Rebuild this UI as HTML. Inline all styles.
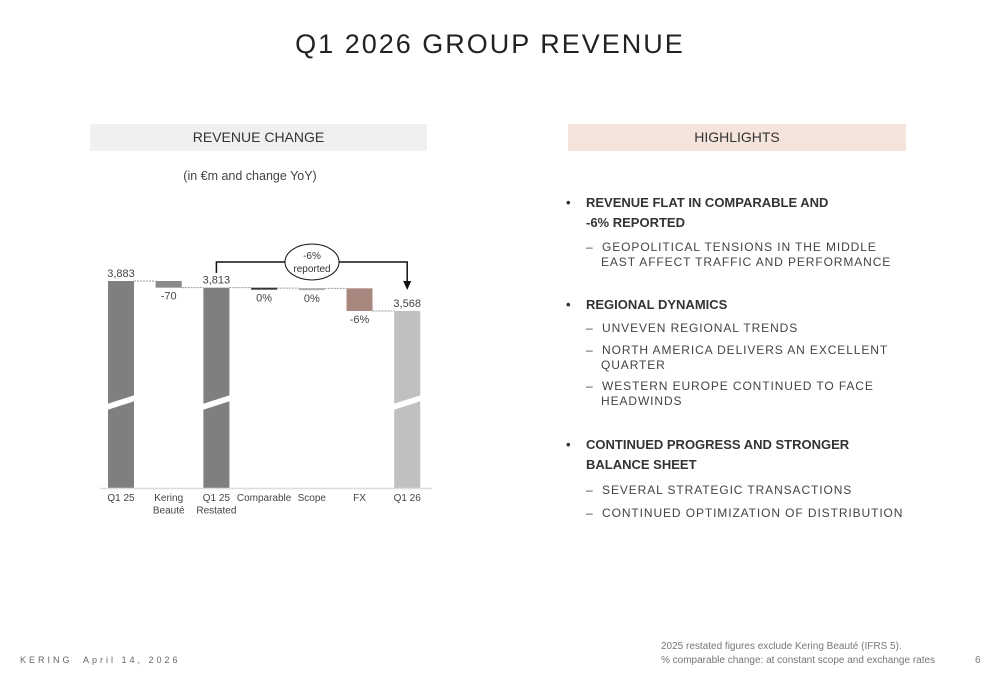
<!DOCTYPE html>
<html><head><meta charset="utf-8"><style>
body{margin:0;width:1000px;height:685px;background:#fff;font-family:"Liberation Sans",sans-serif;color:#333;position:relative;overflow:hidden}
.a{position:absolute;white-space:nowrap}
.b{font-weight:bold;font-size:13px;color:#333;line-height:16px}
.d{font-size:12px;letter-spacing:0.9px;color:#444;line-height:16px}
</style></head><body>
<div class="a" style="left:0;width:980px;text-align:center;top:29px;font-size:27px;letter-spacing:2px;color:#222">Q1 2026 GROUP REVENUE</div>
<div class="a" style="left:90px;top:124px;width:337px;height:27px;background:#f0f0f0;text-align:center;line-height:27px;font-size:14px">REVENUE CHANGE</div>
<div class="a" style="left:568px;top:124px;width:338px;height:27px;background:#f4e4dc;text-align:center;line-height:27px;font-size:14px">HIGHLIGHTS</div>
<div class="a" style="left:90px;width:320px;text-align:center;top:169px;font-size:12.5px;color:#444">(in €m and change YoY)</div>
<svg class="a" style="left:0;top:0" width="500" height="560" id="chart"></svg>

<div class="a b" style="left:566px;top:195px">•</div>
<div class="a b" style="left:586px;top:195px">REVENUE FLAT IN COMPARABLE AND</div>
<div class="a b" style="left:586px;top:215px">-6% REPORTED</div>
<div class="a d" style="left:586px;top:239px">–&nbsp; GEOPOLITICAL TENSIONS IN THE MIDDLE</div>
<div class="a d" style="left:601px;top:254px">EAST AFFECT TRAFFIC AND PERFORMANCE</div>
<div class="a b" style="left:566px;top:297px">•</div>
<div class="a b" style="left:586px;top:297px">REGIONAL DYNAMICS</div>
<div class="a d" style="left:586px;top:320px">–&nbsp; UNVEVEN REGIONAL TRENDS</div>
<div class="a d" style="left:586px;top:342px">–&nbsp; NORTH AMERICA DELIVERS AN EXCELLENT</div>
<div class="a d" style="left:601px;top:357px">QUARTER</div>
<div class="a d" style="left:586px;top:378px">–&nbsp; WESTERN EUROPE CONTINUED TO FACE</div>
<div class="a d" style="left:601px;top:393px">HEADWINDS</div>
<div class="a b" style="left:566px;top:437px">•</div>
<div class="a b" style="left:586px;top:437px">CONTINUED PROGRESS AND STRONGER</div>
<div class="a b" style="left:586px;top:457px">BALANCE SHEET</div>
<div class="a d" style="left:586px;top:482px">–&nbsp; SEVERAL STRATEGIC TRANSACTIONS</div>
<div class="a d" style="left:586px;top:505px">–&nbsp; CONTINUED OPTIMIZATION OF DISTRIBUTION</div>

<div class="a" style="left:20px;top:655px;font-size:9px;letter-spacing:3px;color:#666">KERING&nbsp; April 14, 2026</div>
<div class="a" style="left:661px;top:640px;font-size:10px;color:#777;line-height:14px">2025 restated figures exclude Kering Beauté (IFRS 5).<br>% comparable change: at constant scope and exchange rates</div>
<div class="a" style="left:975px;top:655px;font-size:10px;color:#777">6</div>

<script>
const categories=["Q1 25","Kering|Beauté","Q1 25|Restated","Comparable","Scope","FX","Q1 26"];
const values=[3883,-70,3813,-5,-2,-238,3568];
const types=["total","delta","total","delta","delta","delta","total"];
const valueLabels=["3,883","-70","3,813","0%","0%","-6%","3,568"];
const colors=["#7f7f7f","#8a8a8a","#7f7f7f","#333","#aaa","#a8877f","#c0c0c0"];
const svg=document.getElementById('chart');
const NS="http://www.w3.org/2000/svg";
const base=488, topV=3883, topY=281, scale=0.0952;
function y(v){return topY+(topV-v)*scale;}
function x(i){return 121+i*47.7;}
const bw=26;
function mk(t,a){const e=document.createElementNS(NS,t);for(const k in a)e.setAttribute(k,a[k]);svg.appendChild(e);return e;}
let run=0;
categories.forEach((c,i)=>{
  const cx=x(i);let y0,y1,end;
  if(types[i]==="total"){y0=y(values[i]);y1=base;end=values[i];}
  else{const s=run,e=run+values[i];y0=y(Math.max(s,e));y1=y(Math.min(s,e));end=e;if(y1-y0<2)y1=y0+2;}
  const r=mk('rect',{x:cx-bw/2,y:y0,width:bw,height:y1-y0,fill:colors[i]});
  
  
  if(types[i]==="total"){
    const br=mk('polygon',{points:`${cx-bw/2-1},404 ${cx+bw/2+1},395 ${cx+bw/2+1},401 ${cx-bw/2-1},410`,fill:'#fff'});
    
    
  }
  if(i>0){const ln=mk('line',{x1:x(i-1)+bw/2,x2:cx-bw/2,y1:y(run),y2:y(run),stroke:'#999','stroke-width':1,'stroke-dasharray':'2,1'});
    
    }
  run=end;
  const lbl=mk('text',{x:cx,'text-anchor':'middle','font-size':11,fill:'#444'});
  lbl.textContent=valueLabels[i];
  if(types[i]==="total"){lbl.setAttribute('y',y0-4);}
  else lbl.setAttribute('y',y1+12);
  
  
  const parts=c.split('|');
  parts.forEach((p,j)=>{const t=mk('text',{x:cx,y:501+j*12.5,'text-anchor':'middle','font-size':10,fill:'#444'});t.textContent=p;
    
    });
});
const ax=mk('line',{x1:100,x2:432,y1:488.5,y2:488.5,stroke:'#ddd','stroke-width':1.5});


const br=mk('path',{d:`M${x(2)} 273 V262 H${x(6)} V284`,stroke:'#111',fill:'none','stroke-width':1.5});


const ar=mk('polygon',{points:`${x(6)-4},281 ${x(6)+4},281 ${x(6)},290`,fill:'#111'});


const el=mk('ellipse',{cx:312,cy:262,rx:27,ry:18,fill:'#fff',stroke:'#111','stroke-width':1});


[["-6%",259],["reported",272]].forEach(([s,yy])=>{const t=mk('text',{x:312,y:yy,'text-anchor':'middle','font-size':10,fill:'#333'});t.textContent=s;
  
  });
</script>
</body></html>
